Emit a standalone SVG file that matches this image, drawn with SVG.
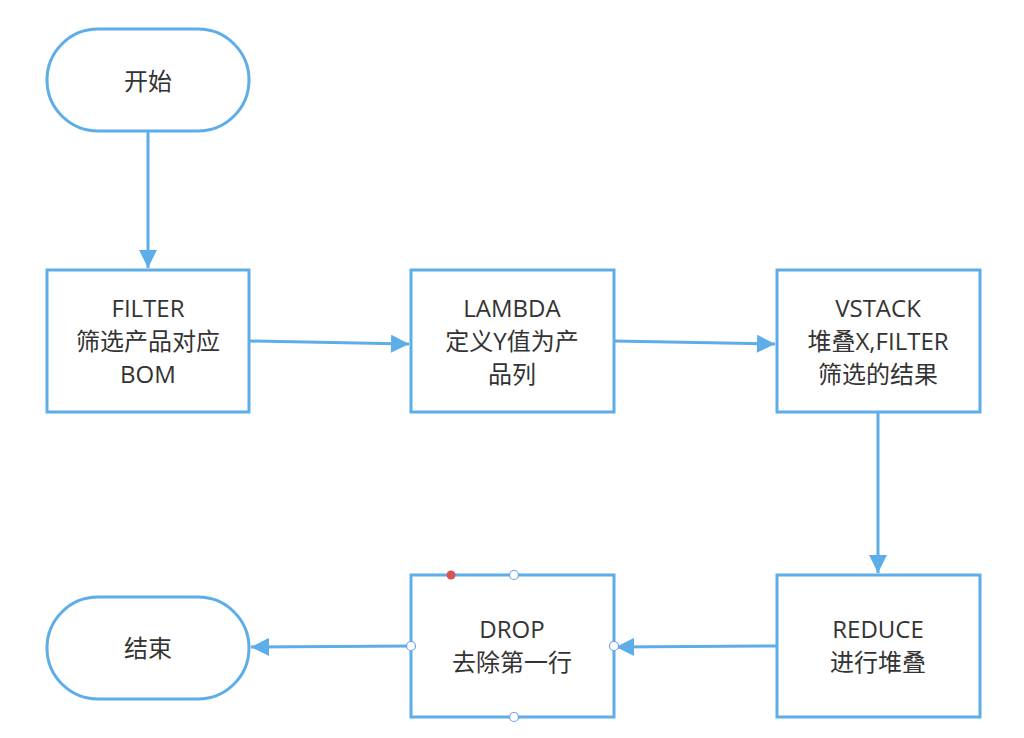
<svg xmlns="http://www.w3.org/2000/svg" width="1024" height="738" viewBox="0 0 1024 738">
<style>
.n{fill:#fff;stroke:#5DADE8;stroke-width:3}
.t{font-family:"Open Sans","Noto Sans CJK SC",sans-serif;font-size:24px;fill:#333;text-anchor:middle}
.c{stroke:#5DADE8;stroke-width:3;fill:none}
.h{fill:#fff;stroke:#6fa0e8;stroke-width:1.2}
</style>
<defs><marker id="a" viewBox="0 0 10 10" refX="10" refY="5" markerWidth="7" markerHeight="6" markerUnits="strokeWidth" orient="auto"><path d="M0,0L10,5L0,10z" fill="#5DADE8"/></marker></defs>
<rect width="1024" height="738" fill="#fff"/>
<g id="connectors">
<path class="c" d="M148,131V268" marker-end="url(#a)"/>
<path class="c" d="M249,341L409,344" marker-end="url(#a)"/>
<path class="c" d="M614,341L775,344" marker-end="url(#a)"/>
<path class="c" d="M878,412V573" marker-end="url(#a)"/>
<path class="c" d="M777,646L616,647" marker-end="url(#a)"/>
<path class="c" d="M411,646L251,647" marker-end="url(#a)"/>
</g>
<g id="start"><rect class="n" x="47" y="29" width="202" height="102" rx="51"/><text class="t" x="148" y="90">开始</text></g>
<g id="filter"><rect class="n" x="47" y="270" width="202" height="142"/><text class="t" x="148" y="317">FILTER</text><text class="t" x="148" y="350">筛选产品对应</text><text class="t" x="148" y="383">BOM</text></g>
<g id="lambda"><rect class="n" x="411" y="270" width="203" height="142"/><text class="t" x="512" y="317">LAMBDA</text><text class="t" x="512" y="350">定义Y值为产</text><text class="t" x="512" y="383">品列</text></g>
<g id="vstack"><rect class="n" x="777" y="270" width="203" height="142"/><text class="t" x="878" y="317">VSTACK</text><text class="t" x="878" y="350">堆叠X,FILTER</text><text class="t" x="878" y="383">筛选的结果</text></g>
<g id="reduce"><rect class="n" x="777" y="575" width="203" height="142"/><text class="t" x="878" y="638">REDUCE</text><text class="t" x="878" y="671">进行堆叠</text></g>
<g id="drop"><rect class="n" x="411" y="575" width="203" height="142"/><text class="t" x="512" y="638">DROP</text><text class="t" x="512" y="671">去除第一行</text>
<circle class="h" cx="514" cy="575" r="4.5"/><circle class="h" cx="411" cy="646" r="4.5"/><circle class="h" cx="614" cy="646" r="4.5"/><circle class="h" cx="514" cy="717" r="4.5"/><circle cx="451" cy="575" r="4.5" fill="#d9534f"/></g>
<g id="end"><rect class="n" x="47" y="597" width="202" height="102" rx="51"/><text class="t" x="148" y="657">结束</text></g>
</svg>
